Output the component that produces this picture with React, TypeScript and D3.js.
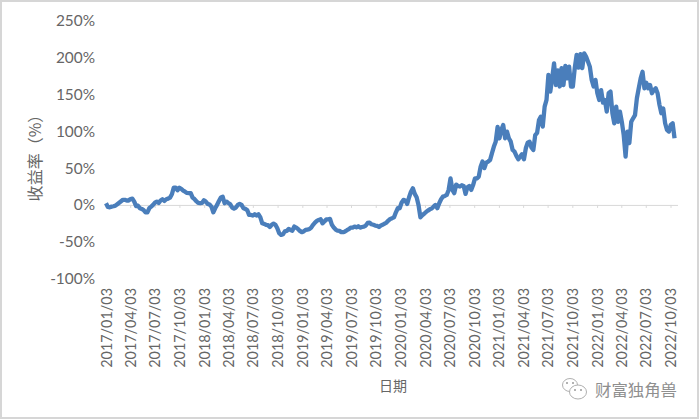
import { axisBottom, axisLeft, line, scaleLinear, scaleTime, select, timeDay, timeFormat } from "d3";
import { useEffect, useRef } from "react";

// weekly readings, % return, one list per year
const values2017 = [2.3, -2.7, -3.2, -2.3, -1.8, -1, 1, 3, 5, 7, 7, 6, 6, 8, 8.5, 4.5, -1.5, -1, -4.5, -5.5, -7, -10, -10, -4.5, -2.3, 0, 3, 4.5, 2.7, 6, 7.7, 5.4, 7.7, 8.6, 10, 14.5, 23.5, 23.5, 20, 23.5, 21.7, 19.5, 18, 16.3, 16, 16, 10, 8, 5, 2.7, 2.3, 2.7];
const values2018 = [6.3, 4.5, 1.4, 0.5, -2.3, -10, -4.5, 0, 5.4, 10, 11, 2.3, 4.5, 2.7, 1, -3.6, -5, -3.6, 0, 1.4, 0, -4.5, -5.4, -7, -13.5, -13.6, -14.5, -12.7, -14.5, -12.7, -17, -25, -25.8, -27, -27.5, -30, -27, -25.4, -27, -31.7, -38.5, -40.8, -39.8, -36, -35.3, -32.6, -34, -35, -29.4, -30.8, -32.6, -35.3];
const values2019 = [-37, -36, -34, -33.5, -33, -30.8, -27, -24, -21.7, -20.4, -19.5, -25, -22.6, -19.5, -19.5, -19, -27, -30.8, -33.5, -35, -35.3, -37, -37, -36, -34.4, -33, -30.8, -30.8, -29.4, -30.4, -29, -30.8, -30, -29.4, -28, -24.5, -24, -26.3, -27, -28, -28.5, -30, -28, -27, -25.4, -24, -21.3, -19, -18, -16.8, -10, -4.5];
const values2020 = [-4.5, 3, 6.8, 6, 1.4, 10.4, 18, 22.6, 15, 10.4, 0, -16.8, -14, -12, -9.5, -7.7, -6, -5, -2.3, 0, -4.5, 2.3, 7.7, 11.3, 12.2, 13.6, 20.4, 36, 20.4, 16, 27.6, 25.8, 25, 26.7, 25.8, 15, 24, 25.8, 20.4, 27, 36, 36, 38.5, 52, 59, 50, 57.5, 59, 61, 70, 79, 86];
const values2021 = [106, 90.6, 102, 108.7, 90.6, 99.7, 90.6, 86, 74.7, 72.5, 66.6, 62, 65.7, 69, 62, 77, 84.7, 86, 78, 74.7, 95, 98, 115.5, 120, 106.5, 133.6, 142.7, 176.7, 154, 172, 192.5, 163, 183, 161, 186, 163, 189, 172, 188, 161, 161, 186, 204, 186.6, 204.8, 186, 206, 201.6, 195, 188, 170, 161];
const values2022 = [170, 151.8, 142.7, 156, 139, 142.7, 126.8, 151.8, 154, 124.6, 111, 133.6, 113, 126.8, 113, 95, 65.7, 99.7, 84, 113, 117.8, 122, 145, 158.6, 172, 181, 158.6, 166, 158.6, 163, 151.8, 156, 158.6, 151.8, 136, 124.6, 131, 111, 102, 99.7, 108.7, 111, 90.6];
const returns = [...values2017, ...values2018, ...values2019, ...values2020, ...values2021, ...values2022];

const quarterTicks = [
  "2017/01/03", "2017/04/03", "2017/07/03", "2017/10/03",
  "2018/01/03", "2018/04/03", "2018/07/03", "2018/10/03",
  "2019/01/03", "2019/04/03", "2019/07/03", "2019/10/03",
  "2020/01/03", "2020/04/03", "2020/07/03", "2020/10/03",
  "2021/01/03", "2021/04/03", "2021/07/03", "2021/10/03",
  "2022/01/03", "2022/04/03", "2022/07/03", "2022/10/03",
];
const yTicks = [-100, -50, 0, 50, 100, 150, 200, 250];

const startDate = new Date(quarterTicks[0]);
const lastTick = new Date(quarterTicks[quarterTicks.length - 1]);
const fontLatin = "Lato, 'Noto Sans', sans-serif";
const fontCjk = "'Noto Sans CJK SC', sans-serif";
const textColor = "#666";

export default function App() {
  const xAxisRef = useRef<SVGGElement>(null);
  const labelRef = useRef<SVGGElement>(null);
  const yAxisRef = useRef<SVGGElement>(null);

  const scaleX = scaleTime().domain([startDate, lastTick]).range([106, 670.5]);
  const scaleY = scaleLinear().domain([-100, 250]).range([278.5, 21]);
  const fmt = timeFormat("%Y/%m/%d");
  const tickDates = quarterTicks.map((d) => new Date(d));

  const path = line<number>()
    .x((_, i) => scaleX(timeDay.offset(startDate, i * 7)))
    .y((d) => scaleY(d));

  useEffect(() => {
    if (xAxisRef.current) {
      const g = select(xAxisRef.current);
      g.call(axisBottom(scaleX).tickValues(tickDates).tickSize(3).tickFormat(() => ""));
      g.select(".domain").attr("stroke", "#d9d9d9").attr("d", "M106,0.5H678");
      g.selectAll("line").attr("stroke", "#d9d9d9");
    }
    if (labelRef.current) {
      const g = select(labelRef.current);
      g.call(axisBottom(scaleX).tickValues(tickDates).tickSize(0).tickFormat((d) => fmt(d as Date)));
      g.select(".domain").remove();
      g.selectAll("text")
        .attr("transform", "rotate(-90)")
        .attr("text-anchor", "end")
        .attr("x", 0)
        .attr("y", 0)
        .attr("dy", "0.35em")
        .attr("fill", textColor)
        .style("font-size", "14.4px")
        .style("font-family", fontLatin);
    }
    if (yAxisRef.current) {
      const g = select(yAxisRef.current);
      g.call(axisLeft(scaleY).tickValues(yTicks).tickSize(0).tickFormat((d) => `${d}%`));
      g.select(".domain").remove();
      g.selectAll("text")
        .attr("x", 0)
        .attr("fill", textColor)
        .style("font-size", "15.4px")
        .style("font-family", fontLatin);
    }
  }, []);

  return (
    <svg width={700} height={420} style={{ position: "absolute", left: 0, top: 0 }}>
      <rect x={0} y={0} width={700} height={420} fill="#fff" />
      <rect x={1} y={1} width={697} height={417} fill="none" stroke="#d6d6d6" strokeWidth={2} />
      <g ref={xAxisRef} transform={`translate(0, ${scaleY(0)})`} />
      <g ref={labelRef} transform="translate(0, 288)" />
      <g ref={yAxisRef} transform="translate(95, 0)" />
      <path d={path(returns) ?? ""} fill="none" stroke="#4a7ebb" strokeWidth={4.3} strokeLinejoin="round" />
      <text
        transform="translate(41, 154) rotate(-90)"
        textAnchor="middle"
        fontSize={16}
        fontFamily={fontCjk}
        fill={textColor}
      >
        收益率（%）
      </text>
      <text x={393} y={391} textAnchor="middle" fontSize={14} fontFamily={fontCjk} fill={textColor}>
        日期
      </text>
      <g fill="#fff" stroke="#b0b0b0" strokeWidth={1}>
        <ellipse cx={570} cy={385} rx={7.5} ry={6.5} />
        <ellipse cx={578} cy={392} rx={8.5} ry={7} />
      </g>
      <g fill="#9a9a9a">
        <circle cx={567} cy={383} r={1} />
        <circle cx={573} cy={383} r={1} />
        <circle cx={575} cy={390} r={1} />
        <circle cx={581} cy={390} r={1} />
      </g>
      <text x={595} y={396} fontSize={16.4} fontFamily={fontCjk} fill="#8f8f8f">
        财富独角兽
      </text>
    </svg>
  );
}
